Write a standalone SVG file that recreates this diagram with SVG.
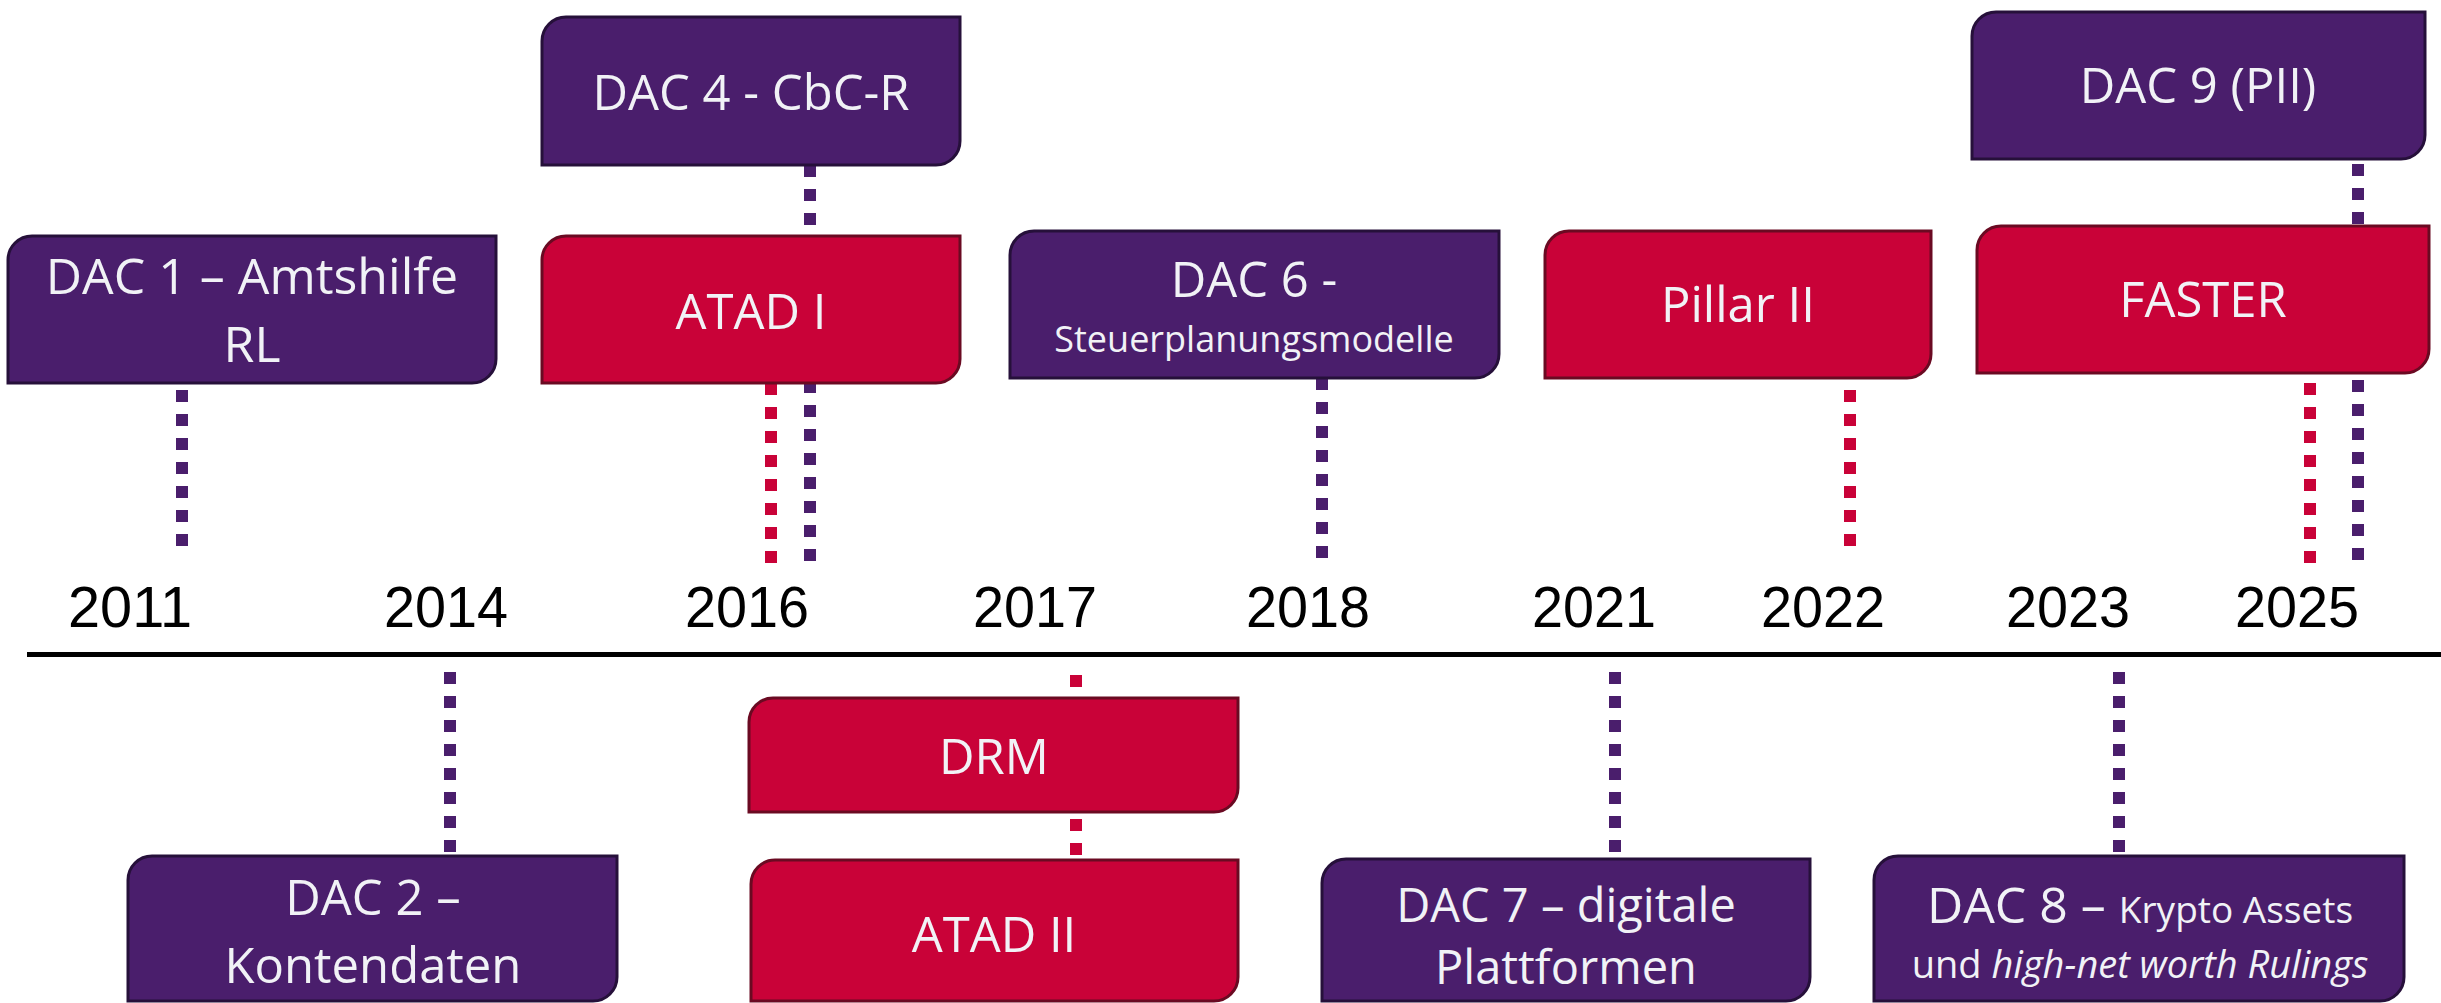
<svg xmlns="http://www.w3.org/2000/svg" width="2441" height="1003" viewBox="0 0 2441 1003">
<style>
.p{fill:#4A1E6C;stroke:#26103A;stroke-width:3}
.r{fill:#C90238;stroke:#6A0A22;stroke-width:3}
.t{font-family:"Open Sans","Liberation Sans",sans-serif;fill:#F1F2F6;text-anchor:middle;font-size:49px}
.s{font-size:36px}
.y{font-family:"Liberation Sans",Arial,sans-serif;font-size:58px;fill:#000;text-anchor:middle}
.cp{stroke:#4A1E6C;stroke-width:12;stroke-dasharray:12 12;fill:none}
.cr{stroke:#C90238;stroke-width:12;stroke-dasharray:12 12;fill:none}
</style>
<rect width="2441" height="1003" fill="#fff"/>
<g id="connectors">
<line class="cp" x1="182" y1="390" x2="182" y2="546"/>
<line class="cp" x1="810" y1="165" x2="810" y2="561"/>
<line class="cr" x1="771" y1="383" x2="771" y2="563"/>
<line class="cp" x1="1322" y1="378" x2="1322" y2="558"/>
<line class="cr" x1="1850" y1="366" x2="1850" y2="546"/>
<line class="cp" x1="2358" y1="164" x2="2358" y2="560"/>
<line class="cr" x1="2310" y1="383" x2="2310" y2="563"/>
<line class="cp" x1="450" y1="672" x2="450" y2="852"/>
<line class="cr" x1="1076" y1="675" x2="1076" y2="855"/>
<line class="cp" x1="1615" y1="672" x2="1615" y2="852"/>
<line class="cp" x1="2119" y1="672" x2="2119" y2="852"/>
</g>
<g id="timeline">
<line x1="27" y1="654.5" x2="2441" y2="654.5" stroke="#000" stroke-width="5"/>
<text class="y" x="130" y="627" textLength="124" lengthAdjust="spacingAndGlyphs">2011</text>
<text class="y" x="446" y="627" textLength="124" lengthAdjust="spacingAndGlyphs">2014</text>
<text class="y" x="747" y="627" textLength="124" lengthAdjust="spacingAndGlyphs">2016</text>
<text class="y" x="1035" y="627" textLength="124" lengthAdjust="spacingAndGlyphs">2017</text>
<text class="y" x="1308" y="627" textLength="124" lengthAdjust="spacingAndGlyphs">2018</text>
<text class="y" x="1594" y="627" textLength="124" lengthAdjust="spacingAndGlyphs">2021</text>
<text class="y" x="1823" y="627" textLength="124" lengthAdjust="spacingAndGlyphs">2022</text>
<text class="y" x="2068" y="627" textLength="124" lengthAdjust="spacingAndGlyphs">2023</text>
<text class="y" x="2297" y="627" textLength="124" lengthAdjust="spacingAndGlyphs">2025</text>
</g>
<g id="dac1">
<path class="p" d="M8,260 A24,24 0 0 1 32,236 H496 V359 A24,24 0 0 1 472,383 H8 Z"/>
<text class="t" x="252" y="294" style="font-size:50px">DAC 1 – Amtshilfe</text>
<text class="t" x="252" y="362" style="font-size:50px">RL</text>
</g>
<g id="dac4">
<path class="p" d="M542,41 A24,24 0 0 1 566,17 H960 V141 A24,24 0 0 1 936,165 H542 Z"/>
<text class="t" x="751" y="110">DAC 4 - CbC-R</text>
</g>
<g id="atad1">
<path class="r" d="M542,260 A24,24 0 0 1 566,236 H960 V359 A24,24 0 0 1 936,383 H542 Z"/>
<text class="t" x="751" y="329">ATAD I</text>
</g>
<g id="dac6">
<path class="p" d="M1010,255 A24,24 0 0 1 1034,231 H1499 V354 A24,24 0 0 1 1475,378 H1010 Z"/>
<text class="t" x="1254" y="297">DAC 6 -</text>
<text class="t s" x="1254" y="352">Steuerplanungsmodelle</text>
</g>
<g id="pillar2">
<path class="r" d="M1545,255 A24,24 0 0 1 1569,231 H1931 V354 A24,24 0 0 1 1907,378 H1545 Z"/>
<text class="t" x="1738" y="322">Pillar II</text>
</g>
<g id="dac9">
<path class="p" d="M1972,36 A24,24 0 0 1 1996,12 H2425 V135 A24,24 0 0 1 2401,159 H1972 Z"/>
<text class="t" x="2198" y="103">DAC 9 (PII)</text>
</g>
<g id="faster">
<path class="r" d="M1977,250 A24,24 0 0 1 2001,226 H2429 V349 A24,24 0 0 1 2405,373 H1977 Z"/>
<text class="t" x="2203" y="317">FASTER</text>
</g>
<g id="drm">
<path class="r" d="M749,722 A24,24 0 0 1 773,698 H1238 V788 A24,24 0 0 1 1214,812 H749 Z"/>
<text class="t" x="994" y="774">DRM</text>
</g>
<g id="atad2">
<path class="r" d="M751,884 A24,24 0 0 1 775,860 H1238 V977 A24,24 0 0 1 1214,1001 H751 Z"/>
<text class="t" x="994" y="952">ATAD II</text>
</g>
<g id="dac2">
<path class="p" d="M128,880 A24,24 0 0 1 152,856 H617 V977 A24,24 0 0 1 593,1001 H128 Z"/>
<text class="t" x="373" y="915">DAC 2 –</text>
<text class="t" x="373" y="983">Kontendaten</text>
</g>
<g id="dac7">
<path class="p" d="M1322,883 A24,24 0 0 1 1346,859 H1810 V977 A24,24 0 0 1 1786,1001 H1322 Z"/>
<text class="t" x="1566" y="922" style="font-size:47px">DAC 7 – digitale</text>
<text class="t" x="1566" y="984" style="font-size:47px">Plattformen</text>
</g>
<g id="dac8">
<path class="p" d="M1874,880 A24,24 0 0 1 1898,856 H2404 V977 A24,24 0 0 1 2380,1001 H1874 Z"/>
<text class="t" x="2140" y="923" style="font-size:50px">DAC 8 – <tspan style="font-size:37px">Krypto Assets</tspan></text>
<text class="t" x="2140" y="978" style="font-size:38px">und <tspan font-style="italic">high-net worth Rulings</tspan></text>
</g>
</svg>
